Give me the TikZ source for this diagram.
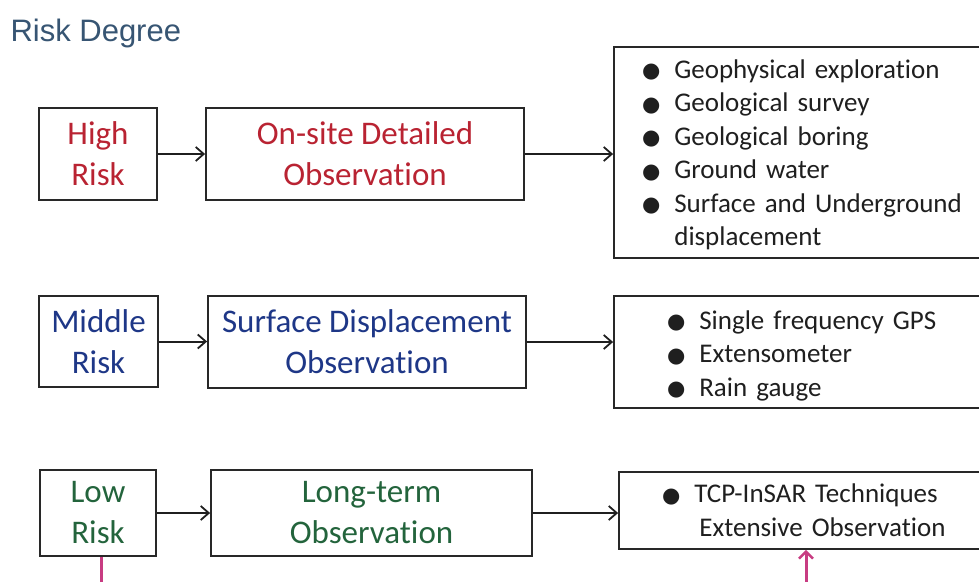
\documentclass[tikz,border=0pt]{standalone}
\usepackage{fontspec}
\setmainfont{Carlito}[Ligatures={NoCommon,NoRare},Contextuals=NoAlternate,RawFeature={-clig;-liga}]
\newfontfamily\titlefont{Liberation Sans}
\newfontfamily\bltfont{DejaVu Sans}
\usetikzlibrary{arrows.meta}
\definecolor{titleblue}{RGB}{55,85,115}
\definecolor{hired}{RGB}{185,35,50}
\definecolor{midblue}{RGB}{30,55,135}
\definecolor{lowgreen}{RGB}{35,100,60}
\definecolor{pinkline}{RGB}{200,60,130}
\definecolor{boxline}{RGB}{40,40,40}
\newcommand{\blt}{\raisebox{0.5pt}{\bltfont\fontsize{21}{21}\selectfont ●}}
\newcommand{\toppad}[1]{\rule{0pt}{#1pt}}
\tikzset{
  box/.style={draw=boxline, line width=1.8pt, rectangle, inner sep=0pt},
  lbl/.style={box, align=center, font=\fontsize{33}{41}\selectfont},
  listbox/.style={box, align=left, font=\fontsize{27}{33.5}\selectfont, text=black!88},
  conn/.style={draw=black!88, line width=2pt, -{Straight Barb[length=8pt,width=14pt,line width=1.8pt]}},
  pinkconn/.style={draw=pinkline, line width=3pt},
}
\begin{document}
\begin{tikzpicture}[x=1pt,y=-1pt]
\useasboundingbox (0,0) rectangle (979,581);
\clip (0,0) rectangle (979,581);
\fill[white] (0,0) rectangle (979,581);

\node[anchor=west, text=titleblue, font=\titlefont\fontsize{31}{36}\selectfont] (title) at (7,33) {Risk Degree};

% High risk row
\node[lbl, text=hired, minimum width=118pt, minimum height=92pt] (high) at (98,154) {High\\Risk};
\node[lbl, text=hired, minimum width=318pt, minimum height=92pt] (onsite) at (365,154) {On-site Detailed\\Observation};
\node[listbox, minimum width=386pt, minimum height=211pt, text width=330pt] (r1) at (807,152.5) {%
\begin{tabular}{@{}l@{\hspace{14pt}}l@{}}
\toppad{29.5}\blt & Geophysical exploration\\
\blt & Geological survey\\
\blt & Geological boring\\
\blt & Ground water\\
\blt & Surface and Underground\\
 & displacement
\end{tabular}};

% Middle risk row
\node[lbl, text=midblue, minimum width=119pt, minimum height=91pt] (middle) at (98.5,341.5) {Middle\\Risk};
\node[lbl, text=midblue, minimum width=318pt, minimum height=92pt] (surf) at (367,342) {Surface Displacement\\Observation};
\node[listbox, minimum width=386pt, minimum height=112pt, text width=280pt] (r2) at (807,352) {%
\begin{tabular}{@{}l@{\hspace{14pt}}l@{}}
\toppad{31.5}\blt & Single frequency GPS\\
\blt & Extensometer\\
\blt & Rain gauge
\end{tabular}};

% Low risk row
\node[lbl, text=lowgreen, minimum width=116pt, minimum height=86pt] (low) at (98,513) {Low\\Risk};
\node[lbl, text=lowgreen, minimum width=321pt, minimum height=86pt] (long) at (371.5,513) {Long-term\\Observation};
\node[listbox, minimum width=381pt, minimum height=77pt, text width=295pt] (r3) at (809.5,510.5) {%
\begin{tabular}{@{}l@{\hspace{14pt}}l@{}}
\toppad{28.5}\blt & TCP-InSAR Techniques\\
 & \hspace{5pt}Extensive Observation
\end{tabular}};

% connectors
\draw[conn] (high.east) -- (onsite.west);
\draw[conn] (onsite.east) -- (onsite.east -| r1.west);
\draw[conn] (middle.east) -- (middle.east -| surf.west);
\draw[conn] (surf.east) -- (surf.east -| r2.west);
\draw[conn] (low.east) -- (long.west);
\draw[conn] (long.east) -- (long.east -| r3.west);

% pink lines going off the bottom
\coordinate (pa) at (101,585);
\coordinate (pb) at (806,585);
\draw[pinkconn] (pa |- low.south) -- (pa);
\draw[pinkconn, -{Straight Barb[length=7pt,width=14pt,line width=2.4pt]}] (pb) -- (pb |- r3.south);
\end{tikzpicture}
\end{document}
